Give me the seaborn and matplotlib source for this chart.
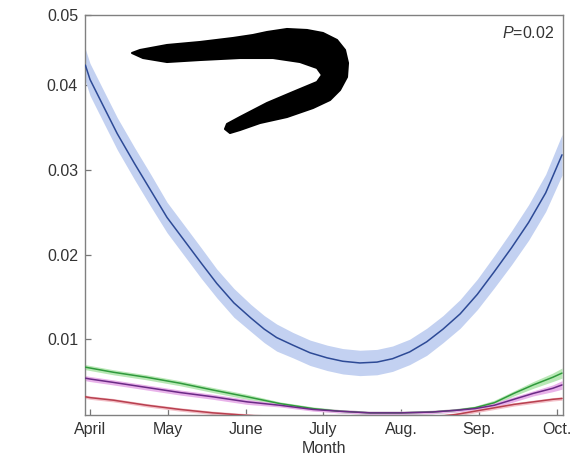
import numpy as np
import pandas as pd
import matplotlib
matplotlib.use("Agg")
import matplotlib.pyplot as plt
import seaborn as sns
from matplotlib.patches import Polygon

# ---------------- data ----------------
month_labels = ["April", "May", "June", "July", "Aug.", "Sep.", "Oct."]

# blue series (with confidence band half-width)
blue_month = [-0.06, 0.0, 0.18, 0.35, 0.57, 0.78, 0.99, 1.21, 1.43, 1.63,
              1.85, 2.07, 2.24, 2.40, 2.61, 2.83, 3.05, 3.25, 3.47, 3.69,
              3.89, 4.11, 4.33, 4.54, 4.76, 4.98, 5.20, 5.42, 5.64, 5.86,
              6.07]
blue = [0.0424, 0.0407, 0.0374, 0.0343, 0.0308, 0.0276, 0.0244, 0.0217, 0.0190, 0.0166,
        0.0143, 0.0125, 0.0112, 0.0102, 0.0093, 0.0084, 0.0078, 0.0074, 0.0072, 0.0073,
        0.0077, 0.0085, 0.0097, 0.0112, 0.0130, 0.0153, 0.0180, 0.0208, 0.0238, 0.0273,
        0.0318]
blue_hw = [0.0019, 0.0019, 0.0019, 0.0019, 0.0019, 0.0019, 0.0018, 0.0018, 0.0018, 0.0017,
           0.0017, 0.0016, 0.0016, 0.0016, 0.0015, 0.0015, 0.0015, 0.0015, 0.0015, 0.0015,
           0.0015, 0.0015, 0.0016, 0.0016, 0.0017, 0.0018, 0.0019, 0.0020, 0.0021, 0.0022,
           0.0024]

# lower three series
low_month = [-0.06, 0.0, 0.3, 0.73, 1.16, 1.58, 2.02, 2.44, 2.87, 3.2,
             3.6, 4.0, 4.4, 4.7, 4.95, 5.2, 5.45, 5.7, 5.95, 6.07]
green = [0.0067, 0.0066, 0.0061, 0.0055, 0.0048, 0.0040, 0.0032, 0.0024, 0.0018, 0.0015,
         0.0013, 0.0013, 0.0014, 0.0016, 0.0019, 0.0025, 0.0036, 0.0046, 0.0055, 0.0060]
green_hw = [0.0003, 0.0003, 0.0003, 0.0003, 0.0003, 0.0003, 0.0003, 0.0002, 0.0002, 0.0002,
            0.0002, 0.0002, 0.0002, 0.0002, 0.0002, 0.0003, 0.0003, 0.0004, 0.0005, 0.0006]
purple = [0.0054, 0.0053, 0.0049, 0.0043, 0.0037, 0.0032, 0.0026, 0.0022, 0.0017, 0.0015,
          0.0013, 0.0013, 0.0014, 0.0016, 0.0018, 0.0022, 0.0029, 0.0036, 0.0042, 0.0046]
purple_hw = [0.0003, 0.0003, 0.0003, 0.0003, 0.0003, 0.0003, 0.0003, 0.0002, 0.0002, 0.0002,
             0.0002, 0.0002, 0.0002, 0.0002, 0.0002, 0.0003, 0.0003, 0.0003, 0.0004, 0.0005]
red = [0.0032, 0.0031, 0.0028, 0.0022, 0.0017, 0.0013, 0.0010, 0.0008, 0.0006, 0.0005,
       0.0005, 0.0006, 0.0008, 0.0011, 0.0015, 0.0019, 0.0023, 0.0026, 0.0029, 0.0030]
red_hw = [0.0002] * 20

series_names = ["blue", "green", "purple", "red"]
series_months = [blue_month, low_month, low_month, low_month]
series_values = [blue, green, purple, red]
series_hw = [blue_hw, green_hw, purple_hw, red_hw]
line_colors = {"blue": "#2d4a96", "green": "#2f9a3c", "purple": "#6b2a86", "red": "#b8404f"}
band_colors = {"blue": "#c3d1f1", "green": "#b9e8b6", "purple": "#e9b3ea", "red": "#f3c0c8"}

y_ticks = [0.01, 0.02, 0.03, 0.04]
y_top = 0.0483
y_bottom = 0.00103

# ---------------- figure ----------------
sns.set_theme(style="white")
plt.rcParams["font.family"] = ["Liberation Sans", "DejaVu Sans"]
plt.rcParams["mathtext.fontset"] = "custom"
plt.rcParams["mathtext.it"] = "Liberation Sans:italic"
plt.rcParams["mathtext.rm"] = "Liberation Sans"

fig = plt.figure(figsize=(5.82, 4.75), dpi=100)
ax = fig.add_axes([0.146, 0.126, 0.821, 0.842])

rows = []
for name, months, vals in zip(series_names, series_months, series_values):
    for m, v in zip(months, vals):
        rows.append({"month": m, "value": v, "series": name})
df = pd.DataFrame(rows)

for name, months, vals, hw in zip(series_names, series_months, series_values, series_hw):
    v = np.array(vals)
    h = np.array(hw)
    ax.fill_between(months, v - h, v + h, color=band_colors[name], lw=0, zorder=1)

sns.lineplot(data=df, x="month", y="value", hue="series", palette=line_colors,
             hue_order=series_names, estimator=None, sort=False, legend=False,
             linewidth=1.1, ax=ax, zorder=3)

ax.set_xlim(-0.065, 6.08)
ax.set_ylim(y_bottom, y_top)
ax.set_xticks(range(len(month_labels)))
ax.set_xticklabels(month_labels)
ax.set_yticks(y_ticks + [y_top])
ax.set_yticklabels(["0.01", "0.02", "0.03", "0.04", "0.05"])
ax.tick_params(axis="both", direction="in", length=4, width=0.9, color="#777777",
               labelsize=11.5, labelcolor="#333333", bottom=True, left=True, pad=5)
ax.set_xlabel("Month", fontsize=11.5, color="#333333", labelpad=3)
ax.set_ylabel("")
for s in ax.spines.values():
    s.set_color("#808080")
    s.set_linewidth(1.0)

ax.text(0.983, 0.955, r"$P$=0.02", transform=ax.transAxes, ha="right", va="center",
        fontsize=11.5, color="#333333")

# decorative eel silhouette (figure pixel coordinates -> figure fraction)
eel_px = [(132, 53), (140, 50), (167, 45), (200, 42), (233, 38), (253, 35), (267, 32),
          (287, 29), (307, 30), (323, 33), (337, 40), (345, 50), (348, 63), (347, 77),
          (340, 90), (330, 100), (313, 108), (287, 117), (260, 123), (240, 130),
          (230, 133), (225, 129), (227, 124), (240, 117), (267, 103), (293, 92),
          (317, 82), (322, 75), (317, 68), (300, 62), (273, 58), (240, 58), (200, 60),
          (167, 62), (143, 58)]
eel = [(x / 582, 1 - y / 475) for x, y in eel_px]
fig.patches.append(Polygon(eel, closed=True, transform=fig.transFigure,
                           facecolor="black", edgecolor="black", lw=1.5, joinstyle="round"))

fig.savefig("out.png", dpi=100)
